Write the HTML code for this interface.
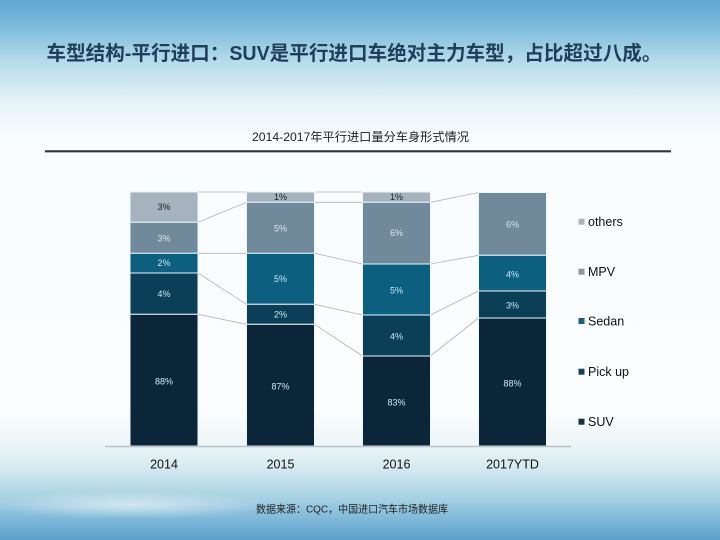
<!DOCTYPE html>
<html><head><meta charset="utf-8"><style>
html,body{margin:0;padding:0;width:720px;height:540px;overflow:hidden;background:#fff}
svg{display:block}
text{font-family:"Liberation Sans","Noto Sans CJK SC",sans-serif}
</style></head><body>
<svg width="720" height="540" viewBox="0 0 720 540" xmlns="http://www.w3.org/2000/svg">
<defs>
<linearGradient id="bg" x1="0" y1="0" x2="0" y2="1">
<stop offset="0" stop-color="#5da8d2"/>
<stop offset="0.05" stop-color="#7dbbdc"/>
<stop offset="0.11" stop-color="#b3daea"/>
<stop offset="0.19" stop-color="#e6f3f8"/>
<stop offset="0.26" stop-color="#fafdfe"/>
<stop offset="0.76" stop-color="#fbfdfe"/>
<stop offset="0.82" stop-color="#eef6f9"/>
<stop offset="0.87" stop-color="#d3e9f0"/>
<stop offset="0.92" stop-color="#a9d2e3"/>
<stop offset="0.96" stop-color="#80bad9"/>
<stop offset="1" stop-color="#5c9fcc"/>
</linearGradient>
<radialGradient id="cloud" cx="0.5" cy="0.5" r="0.5">
<stop offset="0" stop-color="#ffffff" stop-opacity="0.55"/>
<stop offset="1" stop-color="#ffffff" stop-opacity="0"/>
</radialGradient>
</defs>
<rect x="0" y="0" width="720" height="540" fill="url(#bg)"/>
<ellipse cx="130" cy="505" rx="140" ry="14" fill="url(#cloud)"/>

<!-- Title -->
<text x="46.5" y="60" font-size="20" font-weight="bold" fill="#1f3d5c" textLength="615" lengthAdjust="spacingAndGlyphs">车型结构-平行进口：SUV是平行进口车绝对主力车型，占比超过八成。</text>

<!-- Subtitle -->
<text x="252" y="141" font-size="12" fill="#222" textLength="217" lengthAdjust="spacingAndGlyphs">2014-2017年平行进口量分车身形式情况</text>
<line x1="45" y1="152.5" x2="671" y2="152.5" stroke="#c8c8c8" stroke-width="1"/>
<line x1="45" y1="151.2" x2="671" y2="151.2" stroke="#333" stroke-width="1.8"/>

<!-- connectors -->
<g stroke="#b4b4b4" stroke-width="0.8" fill="none">
<line x1="198" y1="192" x2="246.5" y2="192"/>
<line x1="198" y1="222.3" x2="246.5" y2="202.3"/>
<line x1="198" y1="253.3" x2="246.5" y2="253.3"/>
<line x1="198" y1="273" x2="246.5" y2="304.3"/>
<line x1="198" y1="314.3" x2="246.5" y2="324.3"/>

<line x1="314.5" y1="192" x2="362.5" y2="192"/>
<line x1="314.5" y1="202.3" x2="362.5" y2="202.3"/>
<line x1="314.5" y1="253.3" x2="362.5" y2="264"/>
<line x1="314.5" y1="304.3" x2="362.5" y2="315"/>
<line x1="314.5" y1="324.3" x2="362.5" y2="356"/>

<line x1="430.5" y1="202.3" x2="478.5" y2="192.5"/>
<line x1="430.5" y1="264" x2="478.5" y2="255.3"/>
<line x1="430.5" y1="315" x2="478.5" y2="291"/>
<line x1="430.5" y1="356" x2="478.5" y2="318"/>
</g>

<!-- bars -->
<g stroke="#e6f6fb" stroke-width="1">
<!-- 2014 -->
<rect x="130" y="192" width="68" height="30.3" fill="#a6b2bd"/>
<rect x="130" y="222.3" width="68" height="31" fill="#718a9b"/>
<rect x="130" y="253.3" width="68" height="19.7" fill="#0d5f80"/>
<rect x="130" y="273" width="68" height="41.3" fill="#0b3f58"/>
<rect x="130" y="314.3" width="68" height="131.7" fill="#0b2638"/>
<!-- 2015 -->
<rect x="246.5" y="192" width="68" height="10.3" fill="#a6b2bd"/>
<rect x="246.5" y="202.3" width="68" height="51" fill="#718a9b"/>
<rect x="246.5" y="253.3" width="68" height="51" fill="#0d5f80"/>
<rect x="246.5" y="304.3" width="68" height="20" fill="#0b3f58"/>
<rect x="246.5" y="324.3" width="68" height="121.7" fill="#0b2638"/>
<!-- 2016 -->
<rect x="362.5" y="192" width="68" height="10.3" fill="#a6b2bd"/>
<rect x="362.5" y="202.3" width="68" height="61.7" fill="#718a9b"/>
<rect x="362.5" y="264" width="68" height="51" fill="#0d5f80"/>
<rect x="362.5" y="315" width="68" height="41" fill="#0b3f58"/>
<rect x="362.5" y="356" width="68" height="90" fill="#0b2638"/>
<!-- 2017 -->
<rect x="478.5" y="192.5" width="68" height="62.8" fill="#718a9b"/>
<rect x="478.5" y="255.3" width="68" height="35.7" fill="#0d5f80"/>
<rect x="478.5" y="291" width="68" height="27" fill="#0b3f58"/>
<rect x="478.5" y="318" width="68" height="128" fill="#0b2638"/>
</g>

<!-- axis -->
<line x1="105" y1="446.5" x2="571" y2="446.5" stroke="#b8c2c6" stroke-width="1.5"/>

<!-- data labels -->
<g font-size="9" text-anchor="middle" dominant-baseline="central">
<text x="164" y="207" fill="#222">3%</text>
<text x="164" y="238.7" fill="#d9e6ee">3%</text>
<text x="164" y="263" fill="#cde8f4">2%</text>
<text x="164" y="294" fill="#cde8f4">4%</text>
<text x="164" y="381.7" fill="#cde8f4">88%</text>

<text x="280.5" y="197" fill="#222">1%</text>
<text x="280.5" y="228.7" fill="#d9e6ee">5%</text>
<text x="280.5" y="279" fill="#cde8f4">5%</text>
<text x="280.5" y="314.5" fill="#cde8f4">2%</text>
<text x="280.5" y="386.7" fill="#cde8f4">87%</text>

<text x="396.5" y="197" fill="#222">1%</text>
<text x="396.5" y="233" fill="#d9e6ee">6%</text>
<text x="396.5" y="290.3" fill="#cde8f4">5%</text>
<text x="396.5" y="336.7" fill="#cde8f4">4%</text>
<text x="396.5" y="402.3" fill="#cde8f4">83%</text>

<text x="512.5" y="224.3" fill="#d9e6ee">6%</text>
<text x="512.5" y="274.3" fill="#cde8f4">4%</text>
<text x="512.5" y="305.3" fill="#cde8f4">3%</text>
<text x="512.5" y="383.3" fill="#cde8f4">88%</text>
</g>

<!-- x labels -->
<g font-size="12.5" text-anchor="middle" fill="#111">
<text x="164" y="468.5">2014</text>
<text x="280.5" y="468.5">2015</text>
<text x="396.5" y="468.5">2016</text>
<text x="512.5" y="468.5">2017YTD</text>
</g>

<!-- legend -->
<rect x="578.5" y="218.7" width="6" height="6" fill="#b0b2b4"/>
<rect x="578.5" y="268.7" width="6" height="6" fill="#8d9699"/>
<rect x="578.5" y="318" width="6" height="6" fill="#1f5f78"/>
<rect x="578.5" y="368.7" width="6" height="6" fill="#1a4456"/>
<rect x="578.5" y="418.7" width="6" height="6" fill="#17333d"/>
<g font-size="12.5" fill="#111">
<text x="588" y="226">others</text>
<text x="588" y="276">MPV</text>
<text x="588" y="325.5">Sedan</text>
<text x="588" y="376">Pick up</text>
<text x="588" y="426">SUV</text>
</g>

<!-- footer -->
<text x="256" y="512.5" font-size="10.5" fill="#222" textLength="192" lengthAdjust="spacingAndGlyphs">数据来源：CQC，中国进口汽车市场数据库</text>
</svg>
</body></html>
